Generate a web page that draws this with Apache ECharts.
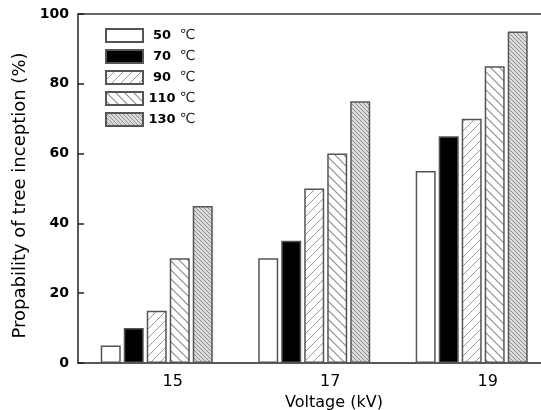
<!DOCTYPE html>
<html>
<head>
<meta charset="utf-8">
<script src="https://cdn.jsdelivr.net/npm/echarts@6/dist/echarts.min.js"></script>
<style>
  html, body { margin: 0; padding: 0; background: #fff; }
  #main { width: 541px; height: 410px; }
</style>
</head>
<body>
<div id="main"></div>
<script>
var voltages = [15, 17, 19];
var temps = ['50', '70', '90', '110', '130'];
var yTicks = [0, 20, 40, 60, 80, 100];
var p50 = [5, 30, 55];
var p70 = [10, 35, 65];
var p90 = [15, 50, 70];
var p110 = [30, 60, 85];
var p130 = [45, 75, 95];

// tileable diagonal hatch
function hatch(dir, step, lineColor, bg, lw) {
    var c = document.createElement('canvas');
    c.width = step; c.height = step;
    var ctx = c.getContext('2d');
    ctx.fillStyle = bg;
    ctx.fillRect(0, 0, step, step);
    ctx.strokeStyle = lineColor;
    ctx.lineWidth = lw;
    ctx.beginPath();
    if (dir === '/') {
        ctx.moveTo(0, step); ctx.lineTo(step, 0);
        ctx.moveTo(-1, 1); ctx.lineTo(1, -1);
        ctx.moveTo(step - 1, step + 1); ctx.lineTo(step + 1, step - 1);
    } else {
        ctx.moveTo(0, 0); ctx.lineTo(step, step);
        ctx.moveTo(-1, step - 1); ctx.lineTo(1, step + 1);
        ctx.moveTo(step - 1, -1); ctx.lineTo(step + 1, 1);
    }
    ctx.stroke();
    return { image: c, repeat: 'repeat' };
}

var fills = [
    '#ffffff',
    '#000000',
    hatch('/', 9, '#9a9a9a', '#ffffff', 1),
    hatch('\\', 9, '#8a8a8a', '#ffffff', 1.1),
    hatch('\\', 4, '#8f8f8f', '#dcdcdc', 1)
];
var values = [p50, p70, p90, p110, p130];

var series = temps.map(function (t, i) {
    return {
        name: t + ' ℃',
        type: 'bar',
        barWidth: 20,
        barGap: '15%',
        data: values[i].map(function (v, j) { return [voltages[j], v]; }),
        itemStyle: { color: fills[i], borderColor: '#555', borderWidth: 1.5 },
        emphasis: { disabled: true }
    };
});

var font = 'DejaVu Sans';
var chart = echarts.init(document.getElementById('main'));
chart.setOption({
    animation: false,
    textStyle: { fontFamily: font },
    grid: { left: 78, top: 14, right: 0, bottom: 47, containLabel: false, outerBoundsMode: 'none' },
    legend: {
        orient: 'vertical',
        left: 105, top: 28, padding: 0,
        icon: 'rect',
        itemWidth: 37, itemHeight: 13, itemGap: 6,
        selectedMode: false,
        formatter: function (name) {
            var parts = name.split(' ');
            return '{n|' + parts[0] + '} {c|' + parts[1] + '}';
        },
        textStyle: {
            lineHeight: 13,
            rich: {
                n: { width: 28, align: 'right', fontWeight: 'bold', fontSize: 13, lineHeight: 13, color: '#000', fontFamily: font },
                c: { fontSize: 14, lineHeight: 13, color: '#222', fontFamily: font }
            }
        }
    },
    xAxis: [{
        type: 'value',
        min: 14, max: 19.88,
        name: 'Voltage (kV)',
        nameLocation: 'middle',
        nameGap: 28,
        nameTextStyle: { fontSize: 16, color: '#000', padding: [0, 0, 0, 49] },
        axisLine: { show: true, onZero: false, lineStyle: { color: '#222', width: 1.5 } },
        axisTick: { show: false },
        axisLabel: { customValues: voltages, fontSize: 16, color: '#000', margin: 11, padding: [0, 0, 0, 32] },
        splitLine: { show: false }
    }, {
        type: 'value',
        position: 'top',
        min: 14, max: 19.88,
        axisLine: { show: true, onZero: false, lineStyle: { color: '#666', width: 2 } },
        axisTick: { show: false },
        axisLabel: { show: false },
        splitLine: { show: false }
    }],
    yAxis: {
        type: 'value',
        min: yTicks[0], max: yTicks[yTicks.length - 1], interval: 20,
        name: 'Propability of tree inception (%)',
        nameLocation: 'middle',
        nameGap: 47,
        nameTextStyle: { fontSize: 18, color: '#000', padding: [0, 14, 0, 0] },
        axisLine: { show: true, lineStyle: { color: '#222', width: 1.5 } },
        axisTick: { show: true, inside: true, length: 6, lineStyle: { color: '#222', width: 1.5 } },
        axisLabel: { fontSize: 14, fontWeight: 'bold', color: '#000', margin: 9 },
        splitLine: { show: false }
    },
    series: series
});
</script>
</body>
</html>
